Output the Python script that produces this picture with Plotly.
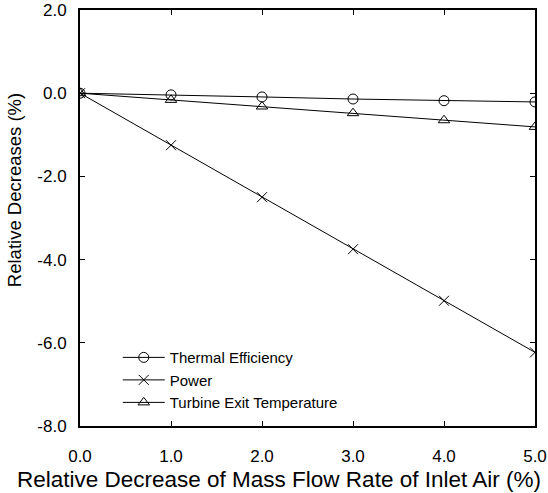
import plotly.graph_objects as go

# Relative decrease of mass flow rate of inlet air (%)
flow_decrease = [0.0, 1.0, 2.0, 3.0, 4.0, 5.0]

# Relative decreases (%) of each quantity
thermal_efficiency = [0.0, -0.04, -0.09, -0.14, -0.18, -0.21]
power = [0.0, -1.25, -2.50, -3.75, -4.99, -6.23]
turbine_exit_temp = [0.0, -0.16, -0.32, -0.48, -0.65, -0.81]

series_names = ["Thermal Efficiency", "Power", "Turbine Exit Temperature"]
x_ticks = [0, 1, 2, 3, 4, 5]
x_tick_text = ["0.0", "1.0", "2.0", "3.0", "4.0", "5.0"]
y_ticks = [2, 0, -2, -4, -6, -8]
y_tick_text = ["2.0", "0.0", "-2.0", "-4.0", "-6.0", "-8.0"]
x_title = "Relative Decrease of Mass Flow Rate of Inlet Air (%)"
y_title = "Relative Decreases (%)"

FONT = "Liberation Sans, Arial, sans-serif"

fig = go.Figure()
for name, values, symbol in zip(
    series_names,
    [thermal_efficiency, power, turbine_exit_temp],
    ["circle-open", "x-thin-open", "triangle-up-open"],
):
    fig.add_trace(go.Scatter(
        x=flow_decrease, y=values, name=name,
        mode="lines+markers",
        line=dict(color="black", width=1),
        marker=dict(symbol=symbol, size=10, color="black",
                    line=dict(color="black", width=1)),
    ))

axis_common = dict(
    showline=True, linewidth=2, linecolor="black", mirror="allticks",
    ticks="inside", ticklen=5, tickwidth=1, tickcolor="black",
    showgrid=False, zeroline=False, automargin=False,
    tickfont=dict(family=FONT, size=17, color="black"),
)

fig.update_xaxes(range=[0, 5], tickvals=x_ticks, ticktext=x_tick_text,
                 ticklabelstandoff=14, **axis_common)
fig.update_yaxes(range=[-8, 2], tickvals=y_ticks, ticktext=y_tick_text,
                 ticklabelstandoff=8, **axis_common)

# Axis titles placed as paper-anchored annotations
fig.add_annotation(
    text=x_title, xref="paper", yref="paper", x=0.437, y=-0.128,
    xanchor="center", yanchor="middle", showarrow=False,
    font=dict(family=FONT, size=22.5, color="black"),
)
fig.add_annotation(
    text=y_title, xref="paper", yref="paper", x=-0.145, y=0.567,
    xanchor="center", yanchor="middle", textangle=-90, showarrow=False,
    font=dict(family=FONT, size=18.5, color="black"),
)

fig.update_layout(
    width=548, height=493,
    margin=dict(l=80, r=13, t=10, b=67),
    paper_bgcolor="white", plot_bgcolor="white",
    font=dict(family=FONT, color="black"),
    showlegend=True,
    legend=dict(
        x=0.083, y=0.204, xanchor="left", yanchor="top",
        bgcolor="rgba(0,0,0,0)", borderwidth=0,
        font=dict(family=FONT, size=15, color="black"),
        tracegroupgap=0, itemwidth=42,
    ),
)

fig.write_html("out.html")
